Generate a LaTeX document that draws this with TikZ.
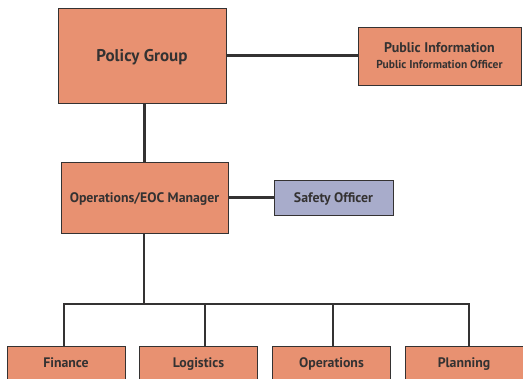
\documentclass[tikz,border=0pt]{standalone}
\usepackage{fontspec}
\setmainfont{PT Sans}
\usetikzlibrary{positioning}

\definecolor{boxfill}{RGB}{232,145,113}
\definecolor{safefill}{RGB}{168,172,203}
\definecolor{ink}{RGB}{52,50,50}

\begin{document}
\begin{tikzpicture}[
  x=1pt, y=-1pt,
  link/.style={line width=2.2pt, draw=ink},
  unit/.style={draw=ink, line width=0.9pt, fill=boxfill, align=center,
    font=\fontsize{13.8}{15}\bfseries, text=ink, inner sep=0pt, text depth=0pt},
  safety/.style={unit, fill=safefill}
]

\useasboundingbox[fill=white] (0,0) rectangle (523,379);
\clip (0,0) rectangle (523,379);

% top level
\node[unit, minimum width=168pt, minimum height=95pt, font=\fontsize{17}{19}\bfseries]
  (policy) at (142,55.5) {Policy Group};
\node[unit, minimum width=163pt, minimum height=58pt, text depth=]
  (pubinfo) at (439.5,56)
  {{\fontsize{14}{14}\selectfont Public Information}\\[1pt]
   {\fontsize{11.5}{12}\selectfont Public Information Officer}};

% EOC level
\node[unit, minimum width=167pt, minimum height=71pt]
  (eoc) at (144.5,197.5) {Operations/EOC Manager};
\node[safety, minimum width=119pt, minimum height=35pt]
  (safety) at (333.5,197.5) {Safety Officer};

% sections
\tikzset{section/.style={unit, minimum width=118pt, minimum height=34pt}}
\node[section] (finance)    at (66,363)    {Finance};
\node[section] (logistics)  at (198.5,363) {Logistics};
\node[section] (operations) at (331.5,363) {Operations};
\node[section] (planning)   at (464,363)   {Planning};

\coordinate (bus) at (144,304);

\draw[link] (policy.east) -- (policy.east -| pubinfo.west);
\draw[link] (eoc.north) -- (eoc.north |- policy.south);
\draw[link] (eoc.east) -- (safety.west);
\draw[link] (eoc.south -| bus) -- (bus);
\draw[link] ([xshift=-2pt]finance.north) |- (bus) -| ([xshift=5pt]planning.north);
\draw[link] ([xshift=6.5pt]logistics.north) -- ([xshift=6.5pt]logistics.north |- bus);
\draw[link] ([xshift=1.5pt]operations.north) -- ([xshift=1.5pt]operations.north |- bus);

\end{tikzpicture}
\end{document}
